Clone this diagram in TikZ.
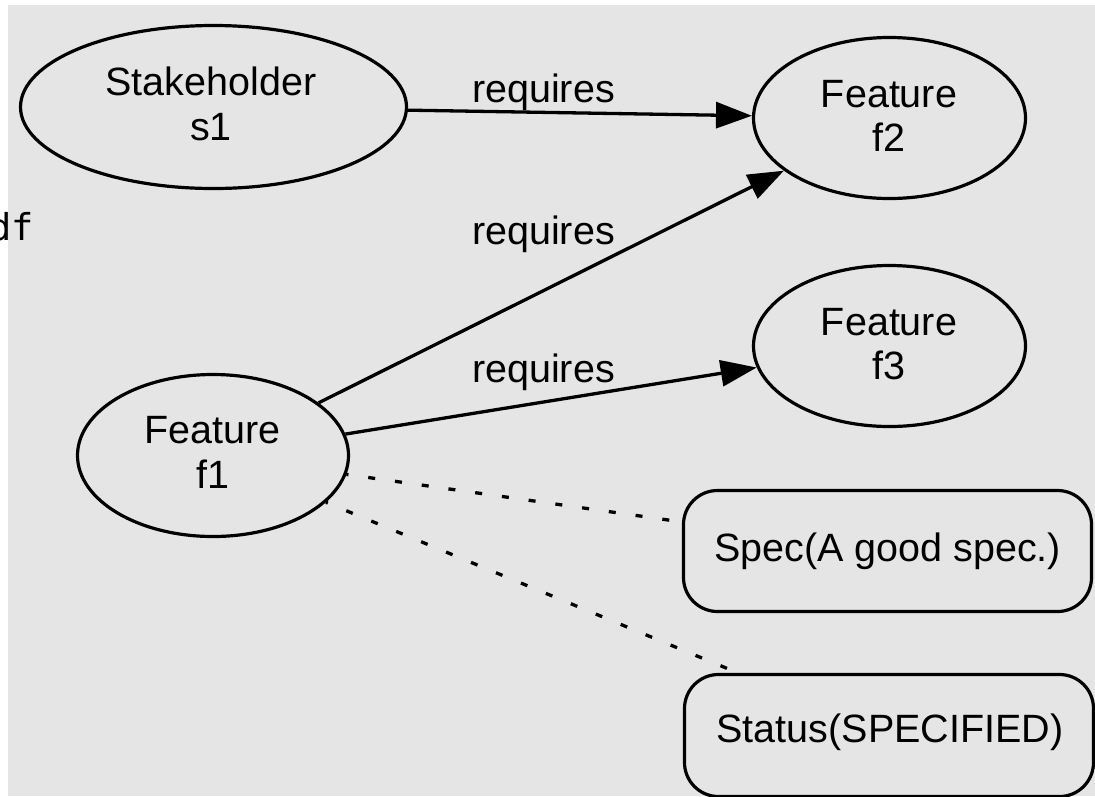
\documentclass[tikz,border=0pt]{standalone}
\usepackage{fontspec}
\setmainfont{Liberation Sans}
\newfontfamily\monofont{DejaVu Sans Mono}
\usetikzlibrary{arrows.meta,shapes.geometric}
\definecolor{canvas}{HTML}{E5E5E5}
\tikzset{
  every node/.style={inner sep=0pt},
  txt/.style={anchor=base, font=\fontsize{39.5}{45}\selectfont},
  oval/.style={draw, ellipse, line width=3.2pt},
  attr/.style={draw, rectangle, rounded corners=34pt, line width=3.2pt,
               minimum width=408pt, minimum height=121pt},
  rel/.style={line width=3.3pt, -{Triangle[length=36pt,width=26pt]}},
  link/.style={line width=3.3pt, dash pattern=on 7pt off 20pt, dash phase=5pt},
}
\begin{document}
\begin{tikzpicture}[x=1pt,y=-1pt]
  \useasboundingbox (0,0) rectangle (1095,796);
  \fill[canvas] (8,5) rectangle (1095,796);

  % file name, cut off at the left edge
  \node[anchor=base east, font=\monofont\fontsize{37}{40}\selectfont] (fname) at (34,240) {df};

  % entities
  \node[oval, minimum width=386pt, minimum height=163pt] (s1) at (213.5,107) {};
  \node[oval, minimum width=271pt, minimum height=162pt] (f1) at (213,455.5) {};
  \node[oval, minimum width=272pt, minimum height=161pt] (f2) at (889.5,118) {};
  \node[oval, minimum width=272pt, minimum height=161pt] (f3) at (889.5,346) {};
  \node[attr] (spec) at (887.5,551) {};
  \node[attr, minimum width=409pt, minimum height=122pt] (status) at (889,735.5) {};

  % entity texts
  \node[txt] (s1a) at (211,95) {Stakeholder};
  \node[txt] (s1b) at (211,140) {s1};
  \node[txt] (f1a) at (212.5,443) {Feature};
  \node[txt] (f1b) at (212.5,488) {f1};
  \node[txt] (f2a) at (889,107) {Feature};
  \node[txt] (f2b) at (889,151) {f2};
  \node[txt] (f3a) at (889,335) {Feature};
  \node[txt] (f3b) at (889,379) {f3};
  \node[txt] (spect) at (887.5,561) {Spec(A good spec.)};
  \node[txt] (statust) at (890,742) {Status(SPECIFIED)};

  % relations
  \draw[rel] (s1) -- (f2);
  \draw[rel] (f1) -- (f2);
  \draw[rel] (f1) -- (f3);
  \draw[link] (f1) -- (spec);
  \draw[link] (f1) -- (status);

  % relation labels
  \node[txt] (r1) at (543.5,102) {requires};
  \node[txt] (r2) at (543.5,244) {requires};
  \node[txt] (r3) at (543.5,382) {requires};
\end{tikzpicture}
\end{document}
